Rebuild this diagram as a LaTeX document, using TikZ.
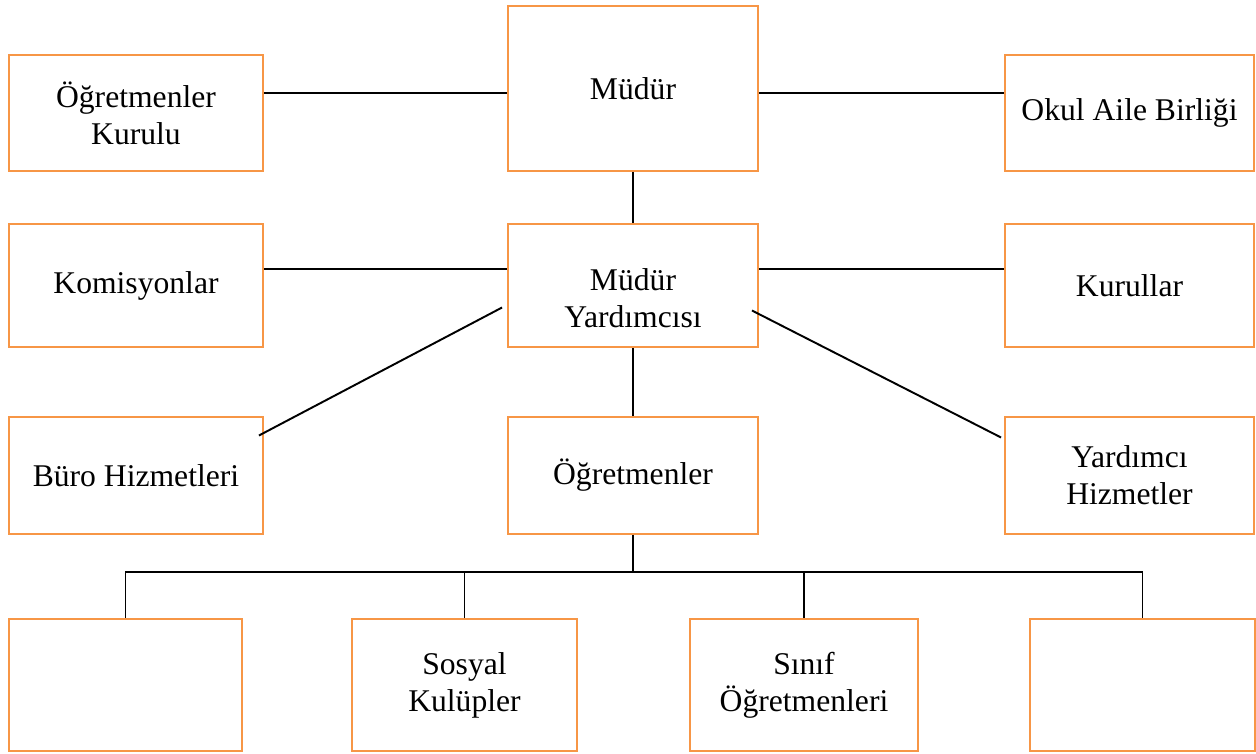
\documentclass[tikz,border=0pt]{standalone}
\usepackage{fontspec}
\setmainfont{Liberation Serif}
\definecolor{turuncu}{HTML}{F79646}
\tikzset{
  yazi/.style={align=center, font=\fontsize{18}{21}\selectfont},
  kutu/.style={yazi, draw=turuncu, line width=1.1pt, inner sep=2pt},
  hat/.style={line width=1.1pt}
}
\begin{document}
\begin{tikzpicture}[x=0.02cm,y=-0.02cm]
  \useasboundingbox (0,0) rectangle (1256,753);
  % ust satir
  \node[kutu, minimum width=5.08cm, minimum height=2.32cm] (kurul) at (136,113) {Öğretmenler\\Kurulu};
  \node[kutu, minimum width=5cm, minimum height=3.3cm] (mudur) at (633,88.5) {Müdür};
  \node[kutu, minimum width=4.98cm, minimum height=2.32cm] (oab) at (1129.5,113) {Okul Aile Birliği};
  % ikinci satir
  \node[kutu, minimum width=5.08cm, minimum height=2.46cm] (komisyon) at (136,285.5) {Komisyonlar};
  \node[kutu, minimum width=5cm, minimum height=2.46cm,
        label={[yazi, yshift=-0.26cm]center:Müdür\\Yardımcısı}] (yard) at (633,285.5) {};
  \node[kutu, minimum width=4.98cm, minimum height=2.46cm] (kurullar) at (1129.5,285.5) {Kurullar};
  % ucuncu satir
  \node[kutu, minimum width=5.08cm, minimum height=2.34cm] (buro) at (136,475.5) {Büro Hizmetleri};
  \node[kutu, minimum width=5cm, minimum height=2.34cm] (ogr) at (633,475.5) {Öğretmenler};
  \node[kutu, minimum width=4.98cm, minimum height=2.34cm] (yhiz) at (1129.5,475.5) {Yardımcı\\Hizmetler};
  % alt satir
  \node[kutu, minimum width=4.66cm, minimum height=2.64cm] (bos1) at (125.5,685) {};
  \node[kutu, minimum width=4.5cm, minimum height=2.64cm] (sosyal) at (464.5,685) {Sosyal\\Kulüpler};
  \node[kutu, minimum width=4.56cm, minimum height=2.64cm] (sinif) at (804,685) {Sınıf\\Öğretmenleri};
  \node[kutu, minimum width=4.5cm, minimum height=2.64cm] (bos2) at (1142.5,685) {};
  % baglantilar
  \coordinate (ust) at (0,93);
  \coordinate (orta) at (0,269);
  \coordinate (bus) at (633,572);
  \draw[hat] (kurul.east |- ust) -- (mudur.west |- ust);
  \draw[hat] (mudur.east |- ust) -- (oab.west |- ust);
  \draw[hat] (mudur.south) -- (yard.north);
  \draw[hat] (komisyon.east |- orta) -- (yard.west |- orta);
  \draw[hat] (yard.east |- orta) -- (kurullar.west |- orta);
  \draw[hat] ([shift={(-5,22)}]yard.west) -- ([shift={(-5,-40)}]buro.east);
  \draw[hat] ([shift={(-7,25)}]yard.east) -- ([shift={(-3,-38)}]yhiz.west);
  \draw[hat] (yard.south) -- (ogr.north);
  \draw[hat] (ogr.south) -- (bus);
  \draw[hat] (bos1.north) |- (bus) -| (bos2.north);
  \foreach \k in {sosyal,sinif}
    \draw[hat] (\k.north) -- (\k.north |- bus);
\end{tikzpicture}
\end{document}
